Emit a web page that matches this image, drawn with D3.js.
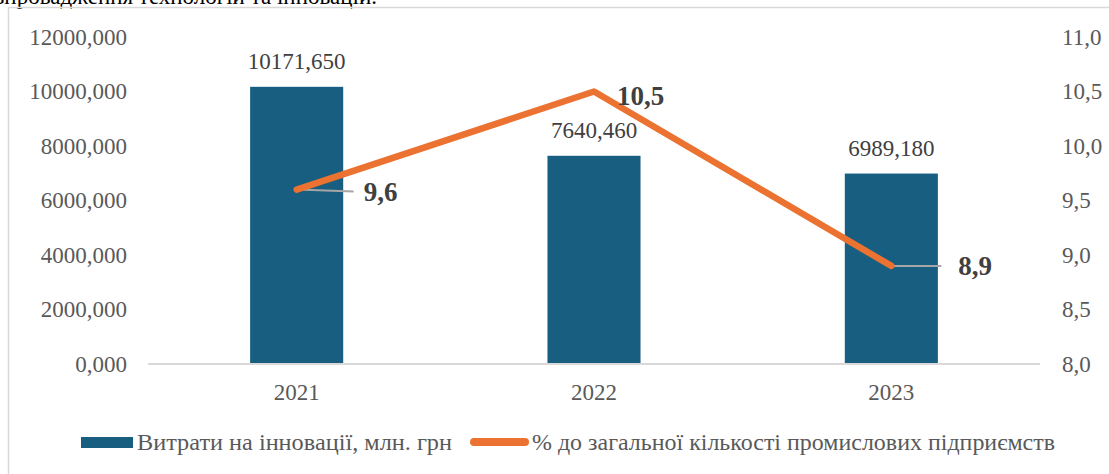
<!DOCTYPE html>
<html>
<head>
<meta charset="utf-8">
<script src="https://cdn.jsdelivr.net/npm/d3@7"></script>
<style>
  body { margin: 0; background: #fff; }
</style>
</head>
<body>
<div id="plot"></div>
<script>
// data
var years = ["2021", "2022", "2023"]
var spending = [10171.650, 7640.460, 6989.180]   // Витрати на інновації, млн. грн
var share = [9.6, 10.5, 8.9]                     // % до загальної кількості промислових підприємств
var leftTicks = [0, 2000, 4000, 6000, 8000, 10000, 12000]
var rightTicks = [8.0, 8.5, 9.0, 9.5, 10.0, 10.5, 11.0]
var legendNames = ["Витрати на інновації, млн. грн", "% до загальної кількості промислових підприємств"]
var caption = "впровадження технологій та інновацій."

var width = 1109, height = 474
var plot = { left: 148, right: 1040, top: 37, bottom: 364 }
var barColor = "#175e80", lineColor = "#eb7230", axisText = "#595959"
var ff = "'Liberation Serif'"

var uk = d3.formatLocale({ decimal: ",", thousands: "", grouping: [3], currency: ["", ""] })
var fmt3 = uk.format(".3f"), fmt1 = uk.format(".1f")

var svg = d3.select("#plot")
  .append("svg")
  .attr("width", width)
  .attr("height", height)
  .attr("font-family", ff)

// clipped caption from the page above the chart
svg.append("text")
  .attr("x", 377)
  .attr("y", 4)
  .attr("text-anchor", "end")
  .attr("font-family", ff)
  .attr("font-size", 23)
  .attr("fill", "#000")
  .text(caption)

// chart border (only top/left visible)
svg.append("path")
  .attr("d", "M8.5," + height + "V7.5H" + width)
  .attr("fill", "none")
  .attr("stroke", "#d9d9d9")
  .attr("stroke-width", 1.5)

var xScale = d3.scaleBand()
  .domain(years)
  .range([plot.left, plot.right])
  .padding(0)

var yLeft = d3.scaleLinear()
  .domain([0, 12000])
  .range([plot.bottom, plot.top])

var yRight = d3.scaleLinear()
  .domain([8, 11])
  .range([plot.bottom, plot.top])

// left axis
var gl = svg.append("g")
  .attr("transform", "translate(" + plot.left + ",0)")
  .call(d3.axisLeft(yLeft).tickValues(leftTicks).tickFormat(fmt3).tickSize(0).tickPadding(21))
gl.select(".domain").remove()

// right axis
var gr = svg.append("g")
  .attr("transform", "translate(" + plot.right + ",0)")
  .call(d3.axisRight(yRight).tickValues(rightTicks).tickFormat(fmt1).tickSize(0).tickPadding(22))
gr.select(".domain").remove()

// bars
var barW = xScale.bandwidth() * 0.313
svg.append("g")
  .selectAll("rect")
  .data(spending)
  .enter()
  .append("rect")
  .attr("x", (d, i) => xScale(years[i]) + xScale.bandwidth() / 2 - barW / 2)
  .attr("y", d => yLeft(d))
  .attr("width", barW)
  .attr("height", d => yLeft(0) - yLeft(d))
  .attr("fill", barColor)

// baseline
svg.append("line")
  .attr("x1", plot.left).attr("x2", plot.right)
  .attr("y1", yLeft(0)).attr("y2", yLeft(0))
  .attr("stroke", "#d9d9d9")
  .attr("stroke-width", 2)

// bottom axis
var gb = svg.append("g")
  .attr("transform", "translate(0," + plot.bottom + ")")
  .call(d3.axisBottom(xScale).tickSize(0).tickPadding(20))
gb.select(".domain").remove()

svg.selectAll(".tick text")
  .attr("font-family", ff)
  .attr("font-size", 23)
  .attr("fill", axisText)

// bar labels
svg.append("g")
  .selectAll("text")
  .data(spending)
  .enter()
  .append("text")
  .attr("x", (d, i) => xScale(years[i]) + xScale.bandwidth() / 2)
  .attr("y", d => yLeft(d) - 18)
  .attr("text-anchor", "middle")
  .attr("font-family", ff)
  .attr("font-size", 23)
  .attr("fill", "#404040")
  .text(d => fmt3(d))

// line
var cx = (d, i) => xScale(years[i]) + xScale.bandwidth() / 2
var line = d3.line()
  .x(cx)
  .y(d => yRight(d))

// leader lines for labels 1 and 3
var leaders = [[0, 57, 2], [2, 50, 0]]
leaders.forEach(function (l) {
  var i = l[0]
  svg.append("line")
    .attr("x1", cx(share[i], i)).attr("y1", yRight(share[i]))
    .attr("x2", cx(share[i], i) + l[1]).attr("y2", yRight(share[i]) + l[2])
    .attr("stroke", "#a6a6a6")
    .attr("stroke-width", 2)
})

svg.append("path")
  .datum(share)
  .attr("d", line)
  .attr("fill", "none")
  .attr("stroke", lineColor)
  .attr("stroke-width", 6.5)
  .attr("stroke-linecap", "round")
  .attr("stroke-linejoin", "round")

// line labels (dx, dy relative to point)
var labelOffsets = [[67, 11], [23, 13], [67, 9]]
svg.append("g")
  .selectAll("text")
  .data(share)
  .enter()
  .append("text")
  .attr("x", (d, i) => cx(d, i) + labelOffsets[i][0])
  .attr("y", (d, i) => yRight(d) + labelOffsets[i][1])
  .attr("font-family", ff)
  .attr("font-size", 27)
  .attr("font-weight", "bold")
  .attr("fill", "#404040")
  .text(d => fmt1(d))

// legend
var lg = svg.append("g")
lg.append("rect")
  .attr("x", 81).attr("y", 437)
  .attr("width", 52).attr("height", 11)
  .attr("fill", barColor)
lg.append("text")
  .attr("x", 137).attr("y", 450)
  .attr("font-family", ff)
  .attr("font-size", 23)
  .attr("fill", axisText)
  .attr("textLength", 315)
  .attr("lengthAdjust", "spacingAndGlyphs")
  .text(legendNames[0])
lg.append("line")
  .attr("x1", 474).attr("x2", 525)
  .attr("y1", 442).attr("y2", 442)
  .attr("stroke", lineColor)
  .attr("stroke-width", 8)
  .attr("stroke-linecap", "round")
lg.append("text")
  .attr("x", 532).attr("y", 450)
  .attr("font-family", ff)
  .attr("font-size", 23)
  .attr("fill", axisText)
  .attr("textLength", 523)
  .attr("lengthAdjust", "spacingAndGlyphs")
  .text(legendNames[1])
</script>
</body>
</html>
